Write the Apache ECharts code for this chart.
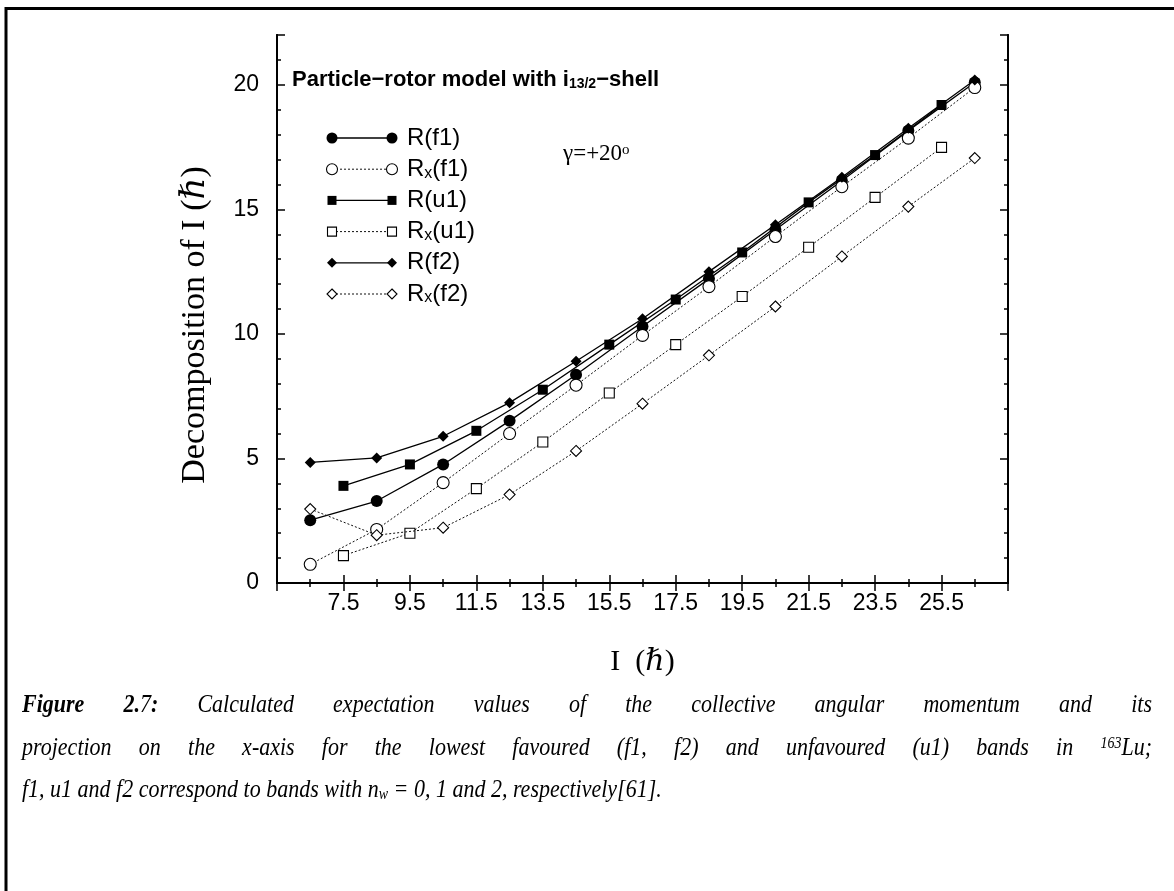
<!DOCTYPE html>
<html>
<head>
<meta charset="utf-8">
<script src="https://cdn.jsdelivr.net/npm/echarts@6/dist/echarts.min.js"></script>
<style>
html,body{margin:0;padding:0;background:#fff;}
#chart{width:1174px;height:891px;}
</style>
</head>
<body>
<div id="chart"></div>
<script>
// ---- data ----
const fX = [6.5, 8.5, 10.5, 12.5, 14.5, 16.5, 18.5, 20.5, 22.5, 24.5, 26.5];
const uX = [7.5, 9.5, 11.5, 13.5, 15.5, 17.5, 19.5, 21.5, 23.5, 25.5];
const R_f1  = [2.52, 3.29, 4.76, 6.51, 8.36, 10.30, 12.21, 14.18, 16.15, 18.16, 20.09];
const Rx_f1 = [0.75, 2.15, 4.03, 6.00, 7.94, 9.94, 11.90, 13.91, 15.91, 17.86, 19.89];
const R_u1  = [3.90, 4.76, 6.11, 7.76, 9.57, 11.38, 13.27, 15.28, 17.18, 19.19];
const Rx_u1 = [1.10, 2.00, 3.79, 5.66, 7.63, 9.57, 11.50, 13.48, 15.48, 17.49];
const R_f2  = [4.84, 5.02, 5.89, 7.24, 8.90, 10.61, 12.50, 14.38, 16.29, 18.26, 20.19];
const Rx_f2 = [2.97, 1.92, 2.22, 3.55, 5.30, 7.20, 9.14, 11.10, 13.11, 15.11, 17.06];
const xTickLabels = ['7.5','9.5','11.5','13.5','15.5','17.5','19.5','21.5','23.5','25.5'];
const yTickLabels = ['0','5','10','15','20'];
const seriesNames = ['R(f1)', 'Rx(f1)', 'R(u1)', 'Rx(u1)', 'R(f2)', 'Rx(f2)'];
const seriesLabels = ['R(f1)', 'R{sub|x}(f1)', 'R(u1)', 'R{sub|x}(u1)', 'R(f2)', 'R{sub|x}(f2)'];
const titleText = 'Particle\u2212rotor model with i{sub|13/2}\u2212shell';
const gammaText = '\u03b3=+20{sup|o}';
const xName = 'I  (\u210f)';
const yName = 'Decomposition of I (\u210f)';
const captionLines = [
  [[['b','Figure']], [['b','2.'],['n','7'],['b',':']], [['n','Calculated']], [['n','expectation']], [['n','values']], [['n','of']], [['n','the']], [['n','collective']], [['n','angular']], [['n','momentum']], [['n','and']], [['n','its']]],
  [[['n','projection']], [['n','on']], [['n','the']], [['n','x-axis']], [['n','for']], [['n','the']], [['n','lowest']], [['n','favoured']], [['n','(f1,']], [['n','f2)']], [['n','and']], [['n','unfavoured']], [['n','(u1)']], [['n','bands']], [['n','in']], [['sup','163'],['n','Lu;']]],
  [[['n','f1,']], [['n','u1']], [['n','and']], [['n','f2']], [['n','correspond']], [['n','to']], [['n','bands']], [['n','with']], [['n','n'],['sub','w']], [['n','=']], [['n','0,']], [['n','1']], [['n','and']], [['n','2,']], [['n','respectively[61].']]]
];

// ---- styling ----
const SANS = '"Liberation Sans", Arial, sans-serif';
const SERIF = '"Liberation Serif", "Times New Roman", "DejaVu Serif", serif';
const styleDefs = [
  {x: fX, y: R_f1,  symbol: 'circle',  size: 12, filled: true,  dotted: false},
  {x: fX, y: Rx_f1, symbol: 'circle',  size: 12, filled: false, dotted: true},
  {x: uX, y: R_u1,  symbol: 'rect',    size: 10, filled: true,  dotted: false},
  {x: uX, y: Rx_u1, symbol: 'rect',    size: 10, filled: false, dotted: true},
  {x: fX, y: R_f2,  symbol: 'diamond', size: 11, filled: true,  dotted: false},
  {x: fX, y: Rx_f2, symbol: 'diamond', size: 11, filled: false, dotted: true}
];
const DOT = [2, 2];
const DOT_COLOR = '#111';

const series = styleDefs.map((d, k) => ({
  type: 'line',
  name: seriesNames[k],
  xAxisIndex: 0, yAxisIndex: 0,
  data: d.x.map((x, i) => [x, d.y[i]]),
  symbol: d.symbol, symbolSize: d.size, showAllSymbol: true,
  lineStyle: {color: d.dotted ? DOT_COLOR : '#000', width: d.dotted ? 1 : 1.3, type: d.dotted ? DOT : 'solid'},
  itemStyle: {color: d.filled ? '#000' : '#fff', borderColor: '#000', borderWidth: d.filled ? 0 : 1.1},
  emphasis: {disabled: true},
  z: 2 + k
}));

const axisLine = {show: true, lineStyle: {color: '#000', width: 2}};
const tickLine = {color: '#000', width: 1.5};

function xAxisDef(pos, labels) {
  return {
    type: 'value', position: pos, min: 5.5, max: 27.5, interval: 2,
    axisLine: axisLine,
    axisTick: {show: true, inside: true, length: 8, lineStyle: tickLine},
    minorTick: {show: true, splitNumber: 2, length: 4, lineStyle: tickLine},
    splitLine: {show: false}, minorSplitLine: {show: false},
    axisLabel: labels ? {
      show: true, margin: 9, color: '#000', fontSize: 23, fontFamily: SANS,
      formatter: v => { const s = v.toFixed(1); return xTickLabels.indexOf(s) >= 0 ? s : ''; }
    } : {show: false}
  };
}
function yAxisDef(pos, interval, len, labels) {
  return {
    type: 'value', position: pos, min: 0, max: 22, interval: interval,
    axisLine: axisLine,
    axisTick: {show: true, inside: true, length: len, lineStyle: tickLine},
    splitLine: {show: false},
    axisLabel: labels ? {
      show: true, margin: 18, color: '#000', fontSize: 23, fontFamily: SANS,
      formatter: v => { const s = String(Math.round(v)); return (yTickLabels.indexOf(s) >= 0 && Math.abs(v - Math.round(v)) < 1e-6) ? s : ''; }
    } : {show: false}
  };
}

const xAxes = [xAxisDef('bottom', true), xAxisDef('top', false)];
xAxes[0].name = xName;
xAxes[0].nameLocation = 'middle';
xAxes[0].nameGap = 64;
xAxes[0].nameTextStyle = {fontFamily: SERIF, fontSize: 30, color: '#000'};

const yAxes = [yAxisDef('left', 1, 4, false), yAxisDef('left', 5, 8, true), yAxisDef('right', 1, 4, false), yAxisDef('right', 5, 8, false)];
yAxes[1].name = yName;
yAxes[1].nameLocation = 'middle';
yAxes[1].nameGap = 65;
yAxes[1].nameTextStyle = {fontFamily: SERIF, fontSize: 34, color: '#000', padding: [0, 32, 0, 0]};

// ---- graphic: frame, legend, annotations, caption ----
const graphics = [];
graphics.push({type: 'rect', shape: {x: 6, y: 8.5, width: 1200, height: 1000}, style: {fill: 'none', stroke: '#000', lineWidth: 3}, silent: true, z: 0});

// legend
const LG = {x1: 332, x2: 392, tx: 407, y0: 138, dy: 31.2};
const LG_SIZE = {circle: 11, rect: 9, diamond: 10};
function legendSymbol(d, cx, cy) {
  const sz = LG_SIZE[d.symbol];
  const st = {fill: d.filled ? '#000' : '#fff', stroke: '#000', lineWidth: d.filled ? 0 : 1.1};
  if (d.symbol === 'circle') return {type: 'circle', shape: {cx: cx, cy: cy, r: sz / 2}, style: st, z: 20};
  if (d.symbol === 'rect') return {type: 'rect', shape: {x: cx - sz / 2, y: cy - sz / 2, width: sz, height: sz}, style: st, z: 20};
  const h = sz / 2;
  return {type: 'polygon', shape: {points: [[cx, cy - h], [cx + h, cy], [cx, cy + h], [cx - h, cy]]}, style: st, z: 20};
}
styleDefs.forEach((d, k) => {
  const y = LG.y0 + k * LG.dy;
  graphics.push({type: 'line', shape: {x1: LG.x1, y1: y, x2: LG.x2, y2: y},
    style: {stroke: d.dotted ? DOT_COLOR : '#000', lineWidth: d.dotted ? 1 : 1.3, lineDash: d.dotted ? DOT : null}, z: 19});
  graphics.push(legendSymbol(d, LG.x1, y));
  graphics.push(legendSymbol(d, LG.x2, y));
  graphics.push({type: 'text', x: LG.tx, y: y, z: 20, style: {
    text: seriesLabels[k], fontSize: 24, fontFamily: SANS, fill: '#000', textVerticalAlign: 'middle',
    rich: {sub: {fontSize: 16, fontFamily: SANS, fill: '#000', verticalAlign: 'bottom', lineHeight: 15}}
  }});
});

// title in plot
graphics.push({type: 'text', x: 292, y: 80, z: 20, style: {
  text: titleText, fontSize: 22, fontWeight: 'bold', fontFamily: SANS, fill: '#000', textVerticalAlign: 'middle',
  rich: {sub: {fontSize: 14, fontWeight: 'bold', fontFamily: SANS, fill: '#000', verticalAlign: 'bottom', lineHeight: 14}}
}});
// gamma annotation
graphics.push({type: 'text', x: 563, y: 154, z: 20, style: {
  text: gammaText, fontSize: 23, fontFamily: SERIF, fill: '#000', textVerticalAlign: 'middle',
  rich: {sup: {fontSize: 15, fontFamily: SERIF, fill: '#000', verticalAlign: 'top', lineHeight: 12}}
}});

// caption with justification
const CAP = {left: 22, right: 1152, ys: [705, 748, 790], size: 22, small: 14, stretchY: 1.15};
const ctx = document.createElement('canvas').getContext('2d');
function segFont(s) {
  if (s === 'b') return 'italic bold ' + CAP.size + 'px ' + SERIF;
  if (s === 'sup' || s === 'sub') return 'italic ' + CAP.small + 'px ' + SERIF;
  return 'italic ' + CAP.size + 'px ' + SERIF;
}
function measureWord(w) {
  let t = 0;
  w.forEach(s => { ctx.font = segFont(s[0]); t += ctx.measureText(s[1]).width; });
  return t;
}
const capRich = {
  n: {fontSize: CAP.size, fontStyle: 'italic', fontFamily: SERIF, fill: '#000'},
  b: {fontSize: CAP.size, fontStyle: 'italic', fontWeight: 'bold', fontFamily: SERIF, fill: '#000'},
  sup: {fontSize: CAP.small, fontStyle: 'italic', fontFamily: SERIF, fill: '#000', verticalAlign: 'top', lineHeight: 12},
  sub: {fontSize: CAP.small, fontStyle: 'italic', fontFamily: SERIF, fill: '#000', verticalAlign: 'bottom', lineHeight: 12}
};
ctx.font = segFont('n');
const spaceW = ctx.measureText(' ').width;
captionLines.forEach((line, li) => {
  const widths = line.map(measureWord);
  const total = widths.reduce((a, b) => a + b, 0);
  const justify = li < captionLines.length - 1;
  const gap = justify ? (CAP.right - CAP.left - total) / (line.length - 1) : spaceW;
  let x = CAP.left;
  line.forEach((w, wi) => {
    graphics.push({type: 'text', x: x, y: CAP.ys[li], scaleY: CAP.stretchY, z: 20, style: {
      text: w.map(s => '{' + s[0] + '|' + s[1] + '}').join(''),
      fontSize: CAP.size, fontStyle: 'italic', fontFamily: SERIF, fill: '#000', textVerticalAlign: 'middle',
      rich: capRich
    }});
    x += widths[wi] + gap;
  });
});

const chart = echarts.init(document.getElementById('chart'), null, {renderer: 'canvas'});
chart.setOption({
  animation: false,
  backgroundColor: '#fff',
  grid: {left: 277, right: 166, top: 35, bottom: 308, containLabel: false},
  xAxis: xAxes,
  yAxis: yAxes,
  series: series,
  graphic: graphics,
  tooltip: {show: false}
});
</script>
</body>
</html>
